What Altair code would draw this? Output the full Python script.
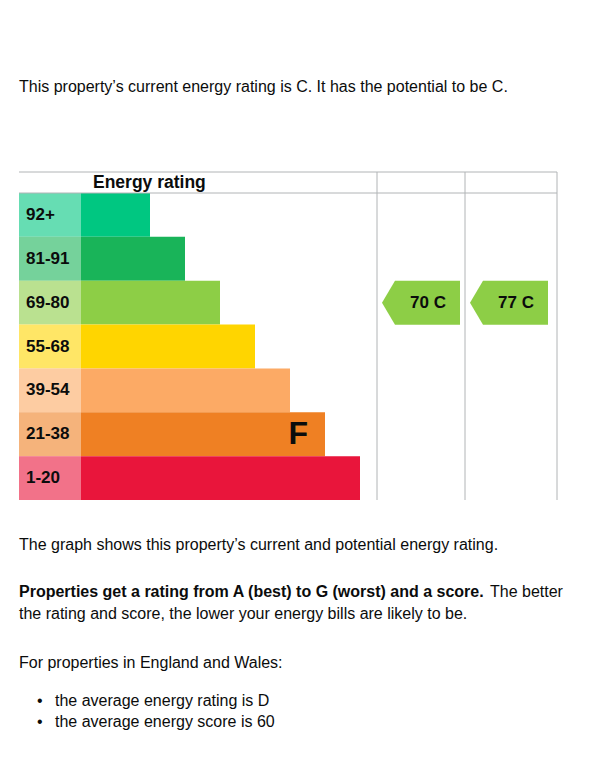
import altair as alt
import pandas as pd

# ---- data ----
bands = ["A", "B", "C", "D", "E", "F", "G"]
score_ranges = ["92+", "81-91", "69-80", "55-68", "39-54", "21-38", "1-20"]
bar_rank = [1, 2, 3, 4, 5, 6, 7]
band_colors = ["#00c781", "#19b459", "#8dce46", "#ffd500", "#fcaa65", "#ef8023", "#e9153b"]

columns = ["Current", "Potential"]
column_scores = [70, 77]
column_bands = ["C", "C"]

marked_band = ["F"]

intro_text = "This property\u2019s current energy rating is C. It has the potential to be C."
graph_text = "The graph shows this property\u2019s current and potential energy rating."
bold_text = "Properties get a rating from A (best) to G (worst) and a score."
tail_text = "The better"
line2_text = "the rating and score, the lower your energy bills are likely to be."
region_text = "For properties in England and Wales:"
bullets = ["the average energy rating is D", "the average energy score is 60"]
header_text = "Energy rating"

FONT = "Liberation Sans"
INK = "#0b0c0c"
GRID = "#b1b4b6"

band_df = pd.DataFrame({"band": bands, "score": score_ranges, "rank": bar_rank})
arrow_df = pd.DataFrame({"col": columns, "band": column_bands, "value": column_scores})
arrow_df["label"] = arrow_df["value"].astype(str) + " " + arrow_df["band"]
letter_df = band_df[band_df["band"].isin(marked_band)]
one = pd.DataFrame({"k": [0]})

Y = alt.Y("band:N", scale=alt.Scale(domain=bands, range=[185, 492], paddingInner=0, paddingOuter=0), axis=None)
XB = alt.X("rank:Q", scale=alt.Scale(domain=[0, 7], range=[107, 352], nice=False, zero=False),
           axis=None, stack=None)
XA = alt.X("col:N", scale=alt.Scale(type="point", domain=columns, range=[413, 501], padding=0), axis=None)

bars = alt.Chart(band_df).mark_bar().encode(
    x=XB, x2=alt.value(11), y=Y,
    color=alt.Color("band:N", scale=alt.Scale(domain=bands, range=band_colors), legend=None),
)
tint = alt.Chart(band_df).mark_rect(color="white", opacity=0.4).encode(
    x=alt.value(11), x2=alt.value(73), y=Y
)
score_labels = alt.Chart(band_df).mark_text(
    align="left", baseline="middle", fontSize=17, fontWeight="bold", font=FONT, color=INK
).encode(x=alt.value(18), y=Y, text="score:N")
letters = alt.Chart(letter_df).mark_text(
    align="right", baseline="middle", fontSize=32, fontWeight="bold", font=FONT, color=INK, dx=-17
).encode(x=XB, y=Y, text="band:N")

ARROW = "M -1 0 L -0.667 -0.564 L 1 -0.564 L 1 0.564 L -0.667 0.564 Z"
arrows = alt.Chart(arrow_df).mark_point(
    shape=ARROW, size=6084, filled=True, fill="#8dce46", opacity=1, strokeWidth=0
).encode(x=XA, y=Y)
arrow_text = alt.Chart(arrow_df).mark_text(
    baseline="middle", fontSize=17, fontWeight="bold", font=FONT, color=INK, dx=7
).encode(x=XA, y=Y, text="label:N")


def rule(x1, x2, y1, y2):
    return alt.Chart(one).mark_rule(color=GRID, strokeWidth=1).encode(
        x=alt.value(x1), x2=alt.value(x2), y=alt.value(y1), y2=alt.value(y2)
    )


def label(text, x, y, size=16, weight="normal", align="left"):
    return alt.Chart(one).mark_text(
        text=text, align=align, baseline="middle", fontSize=size, fontWeight=weight,
        font=FONT, color=INK
    ).encode(x=alt.value(x), y=alt.value(y))


frame = [
    rule(11, 549, 164, 164),
    rule(11, 549, 185, 185),
    rule(369, 369, 164, 492),
    rule(457, 457, 164, 492),
    rule(549, 549, 164, 492),
]

texts = [
    label(intro_text, 11, 79),
    label(header_text, 85, 175, size=17.5, weight="bold"),
    label(graph_text, 11, 537),
    label(bold_text, 11, 584, weight="bold"),
    label(tail_text, 482, 584),
    label(line2_text, 11, 606),
    label(region_text, 11, 655),
    label("\u2022", 29, 693),
    label(bullets[0], 47, 693),
    label("\u2022", 29, 714),
    label(bullets[1], 47, 714),
]

chart = alt.layer(
    bars, tint, score_labels, letters, arrows, arrow_text, *frame, *texts
).resolve_scale(x="independent").properties(
    width=576, height=752, padding=0,
    autosize=alt.AutoSizeParams(type="none"),
).configure_view(strokeWidth=0)

chart.save("out.html", embed_options={"renderer": "svg", "actions": False})
